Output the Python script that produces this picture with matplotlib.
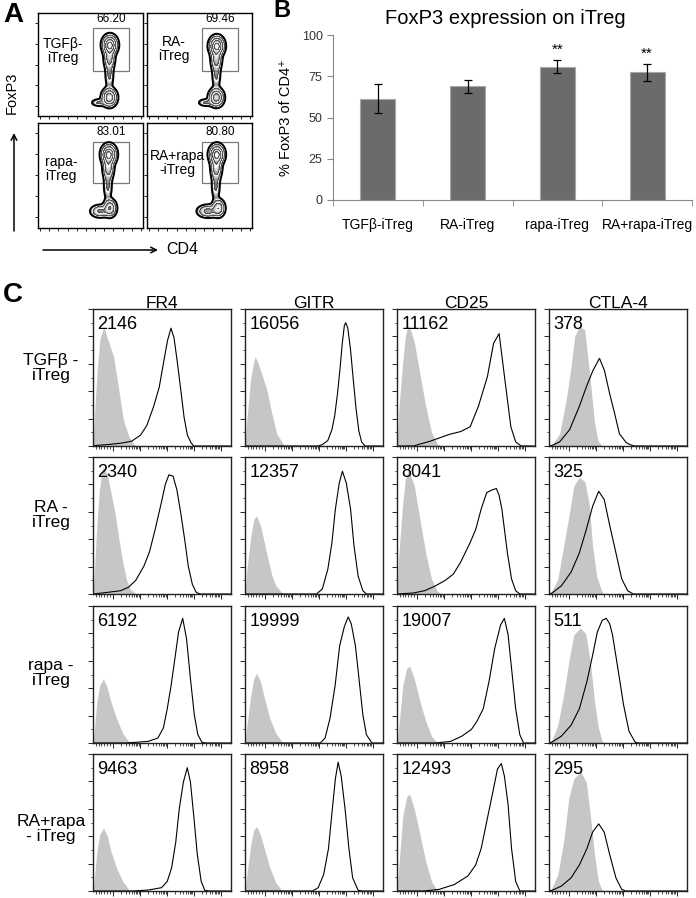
import numpy as np
import matplotlib
matplotlib.use("Agg")
import matplotlib.pyplot as plt

plt.rcParams['font.family'] = ['Liberation Sans', 'DejaVu Sans']

W, H = 696, 898

# ---------------- panel A: FoxP3 vs CD4 contour plots ----------------
flow_labels = ['TGFβ-\niTreg', 'RA-\niTreg', 'rapa-\niTreg', 'RA+rapa\n-iTreg']
gate_pct = ['66.20', '69.46', '83.01', '80.80']
# populations: (x, y, sx, sy, weight) in axes fraction
tgfb_pops = [(0.685, 0.69, 0.034, 0.045, 1.0), (0.68, 0.57, 0.026, 0.06, 0.4),
             (0.68, 0.40, 0.023, 0.08, 0.12), (0.68, 0.18, 0.034, 0.042, 0.8),
             (0.58, 0.13, 0.04, 0.02, 0.12)]
ra_pops = [(0.665, 0.68, 0.034, 0.045, 1.0), (0.66, 0.56, 0.026, 0.06, 0.4),
           (0.66, 0.40, 0.023, 0.08, 0.12), (0.66, 0.18, 0.034, 0.042, 0.75),
           (0.56, 0.13, 0.04, 0.02, 0.12)]
rapa_pops = [(0.675, 0.70, 0.034, 0.045, 1.0), (0.67, 0.58, 0.026, 0.06, 0.45),
             (0.665, 0.40, 0.023, 0.08, 0.12), (0.685, 0.19, 0.03, 0.04, 0.55),
             (0.59, 0.16, 0.045, 0.03, 0.3)]
rarapa_pops = [(0.665, 0.70, 0.034, 0.045, 1.0), (0.66, 0.58, 0.026, 0.06, 0.45),
               (0.655, 0.40, 0.023, 0.08, 0.12), (0.68, 0.19, 0.03, 0.04, 0.5),
               (0.58, 0.16, 0.05, 0.03, 0.35)]
flow_pops = [tgfb_pops, ra_pops, rapa_pops, rarapa_pops]

# ---------------- panel B: bar chart ----------------
groups = ['TGFβ-iTreg', 'RA-iTreg', 'rapa-iTreg', 'RA+rapa-iTreg']
foxp3_mean = [61.5, 68.8, 80.9, 77.3]
foxp3_err = [8.6, 4.1, 3.9, 5.3]
signif = ['', '', '**', '**']

# ---------------- panel C: histograms ----------------
markers = ['FR4', 'GITR', 'CD25', 'CTLA-4']
row_labels = ['TGFβ -\niTreg', 'RA -\niTreg', 'rapa -\niTreg', 'RA+rapa\n- iTreg']
mfi = [[2146, 16056, 11162, 378],
       [2340, 12357, 8041, 325],
       [6192, 19999, 19007, 511],
       [9463, 8958, 12493, 295]]

# (x %, count % of max) per row, isotype (grey) and stained (line)
FR4_ISO = [
    [(0, 0), (0.5, 10), (1.5, 30), (3, 55), (5, 78), (7.8, 87), (10, 80), (15, 65), (18.7, 41), (22, 19), (26, 7), (29.6, 1.5), (32, 0)],
    [(0, 0), (1, 15), (2.5, 45), (4.5, 75), (6.5, 90), (7.6, 93), (10.4, 87), (13, 74), (16, 59), (18.8, 40), (21.6, 23), (24.4, 10), (27, 3.6), (30, 1), (32, 0)],
    [(0, 0), (1.1, 11), (2.8, 30), (4.8, 42), (7.6, 46.7), (10.4, 40), (13, 30), (17, 18), (21.6, 7), (25.8, 1.2), (28.6, 0)],
    [(0, 0), (1.1, 10), (2.8, 29), (4.8, 41), (7.6, 46), (10.4, 40), (13, 29), (17, 17), (21.6, 7), (25.8, 1.2), (28.6, 0)],
]
FR4_STAIN = [
    [(0, 0), (3, 0.5), (10, 1), (20, 2), (28, 3.5), (34.5, 8), (39, 15), (44, 29), (48, 43), (51.5, 63), (54, 77), (56.5, 86), (58.7, 79), (61, 62), (63.6, 41), (66, 21), (68.4, 8), (71, 2.4), (73, 0), (100, 0)],
    [(0, 0), (9, 1), (20, 2.4), (25.8, 5), (31, 10), (37, 20.6), (41, 31), (45, 47), (49.6, 67), (52.4, 80), (55, 87), (58, 86), (60.8, 76), (63.6, 59), (66.4, 40), (69, 20.6), (72, 7), (74.8, 1.2), (77.6, 0), (100, 0)],
    [(0, 0), (23, 0), (31, 0.5), (40, 1.2), (47, 3.6), (51, 11), (53.8, 25), (56.6, 42), (59.4, 62), (62, 81), (65, 91), (67.8, 76), (70.6, 47), (73.4, 20.6), (76, 6), (79, 0.5), (81.8, 0), (100, 0)],
    [(0, 0), (28.6, 0), (40, 0.7), (49.6, 2.4), (53.8, 7), (57, 17), (60, 36), (62.5, 60), (65.5, 79.5), (68.3, 90), (70.6, 79.5), (73, 55), (75.6, 26.5), (78.4, 7), (81, 0.5), (84, 0), (100, 0)],
]
GITR_ISO = [
    [(0, 0), (1.4, 20), (4, 48), (6, 60), (7.3, 65), (9, 62), (12, 53), (15.8, 41), (19.4, 24), (23, 9), (28, 1), (30, 0)],
    [(0, 0), (1.4, 18), (4.2, 42), (6.4, 54.5), (8.4, 57), (11.2, 50), (14, 37.5), (16.8, 25), (19.6, 13), (22.4, 6), (26.6, 1.2), (29.4, 0)],
    [(0, 0), (1.4, 13), (4.2, 35), (6.4, 47), (8.4, 51), (11.2, 45), (14, 33), (18, 18), (22.4, 7), (26.6, 1.2), (29.4, 0)],
    [(0, 0), (1.4, 12), (4.2, 34), (6.4, 44.6), (8.4, 47), (11.2, 41), (14, 31), (18, 17), (22.4, 6), (26.6, 0.7), (29.4, 0)],
]
GITR_STAIN = [
    [(0, 0), (53, 0), (56, 1), (60, 4), (63, 12), (65, 22), (67, 38), (69, 58), (70.5, 75), (72, 88), (73, 90), (74.5, 86), (76.5, 70), (78.5, 48), (80.5, 27), (82.5, 11), (84.5, 3), (87, 0), (100, 0)],
    [(0, 0), (51.8, 0), (56, 3.6), (60, 18), (63, 37.5), (65.5, 62), (68.3, 81), (70.6, 89.6), (73.4, 81), (76.5, 62), (79, 35), (82, 13), (85.4, 2.4), (88, 0), (100, 0)],
    [(0, 0), (54.6, 0), (58, 3.6), (61.6, 18), (65.3, 42), (68.6, 71), (72, 85), (74.8, 92), (77, 87), (80, 71), (82.6, 47), (85.4, 20.6), (88, 6), (92, 0), (100, 0)],
    [(0, 0), (49, 0), (53, 2.4), (57, 12), (60.5, 31), (63.3, 60), (65.5, 82), (67.5, 94), (69.7, 84), (72.5, 60), (75.3, 31), (78, 9.6), (82, 0.5), (85, 0), (100, 0)],
]
CD25_ISO = [
    [(0, 0), (1.4, 28), (4.2, 62), (6, 80), (8, 88), (10, 84), (12.5, 76), (16.7, 52), (20.8, 29), (25, 10), (29, 2), (32, 0)],
    [(0, 0), (1.4, 30), (4.2, 66.6), (6, 83.5), (8.3, 91), (12.5, 79), (16.7, 54), (20.8, 30), (25, 11), (29, 2.4), (32, 0)],
    [(0, 0), (1.4, 13), (4.2, 42), (7, 54.5), (9.2, 56), (12.5, 47), (16.7, 30), (20.8, 16), (25, 5), (29, 0.5), (32, 0)],
    [(0, 0), (1.4, 19), (4.2, 55), (7, 68.7), (9, 71), (12.5, 60), (16.7, 41), (20.8, 21.7), (25, 7), (29, 0.5), (32, 0)],
]
CD25_STAIN = [
    [(0, 0), (12, 0), (17, 1.5), (24, 3.5), (31, 6), (38, 8.5), (46, 10.5), (53, 14), (59, 29), (65.5, 50.6), (70, 75), (74, 82), (77.6, 53), (82.5, 14), (86, 3), (90, 0), (100, 0)],
    [(0, 0), (11.7, 0.7), (20, 2.4), (28, 6), (35, 10), (40.8, 14.5), (46, 23), (53, 37.5), (57, 47), (61, 62), (65, 74), (69, 76), (72, 77), (74, 72), (76, 62), (80, 30), (83, 11), (86, 2.4), (89, 0), (100, 0)],
    [(0, 0), (28, 0), (39, 1.2), (47, 5), (54, 10), (58, 16), (62.5, 25), (66.7, 45), (70.8, 69), (75, 86), (77.8, 91), (80.5, 79), (83, 54.5), (86, 25), (89, 6), (91.7, 0), (100, 0)],
    [(0, 0), (19.4, 0), (30.6, 1.2), (41.7, 4.8), (51.4, 11), (57, 19), (61, 31), (65, 50.6), (69.4, 72), (72.8, 89), (75.6, 93), (77.8, 84), (80.5, 63), (83, 31), (86, 7), (89, 0), (100, 0)],
]
CTLA4_ISO = [
    [(0, 0), (2.9, 2), (7.7, 9), (12.5, 34), (16, 58), (18.6, 80), (22, 87), (25.8, 85), (28, 66), (30.6, 41), (33, 17), (35.4, 4), (38, 0.7), (40, 0)],
    [(0, 0), (2.2, 2.4), (6.4, 11), (10.6, 35), (14.8, 59), (18, 79), (22, 85), (26, 82), (29, 66.6), (31.6, 35), (34.5, 13), (38.6, 1.2), (41.5, 0)],
    [(0, 0), (2.2, 2.4), (6.4, 13), (10.6, 35), (14.8, 62), (18, 79), (22.7, 84), (26.6, 80), (30, 59), (33, 30), (35.8, 11), (38.6, 1.2), (41.5, 0)],
    [(0, 0), (2.2, 2.4), (6.4, 12), (10.6, 36), (14.3, 67.5), (18, 82), (23, 87), (27, 79.5), (30, 55), (33, 26.5), (35.8, 7), (38.6, 0.5), (41.5, 0)],
]
CTLA4_STAIN = [
    [(0, 0), (2.9, 0.7), (7.7, 3), (15, 12), (22, 29), (27, 43), (31.8, 55), (36.6, 64), (40.2, 55), (44, 38), (47.5, 24), (51, 9), (56, 2.4), (59.5, 0.7), (62, 0), (100, 0)],
    [(0, 0), (2.2, 0.7), (9, 6), (16, 16), (22, 30), (27, 47), (31.6, 64), (36, 75), (40, 69), (44, 50), (48.5, 30), (52.7, 11), (57, 2.4), (61, 0), (100, 0)],
    [(0, 0), (2.2, 0.7), (9, 5), (16, 13), (22, 25), (27.5, 45), (31.6, 64), (35, 81), (38.6, 89.6), (41.5, 91), (44, 87), (46, 79), (49.9, 54.5), (54, 28), (58, 8.5), (62.5, 0.5), (65, 0), (100, 0)],
    [(0, 0), (2.2, 0.5), (9, 3.6), (16, 9.6), (22, 19), (27.5, 31), (31.6, 43), (36, 49), (40, 43), (44, 26.5), (48.5, 9.6), (52.7, 1.2), (55.5, 0), (100, 0)],
]
iso_curves = [FR4_ISO, GITR_ISO, CD25_ISO, CTLA4_ISO]
stain_curves = [FR4_STAIN, GITR_STAIN, CD25_STAIN, CTLA4_STAIN]


def rect(x0, y0, x1, y1):
    """pixel box (top-left origin) -> figure fraction rect"""
    return [x0 / W, 1 - y1 / H, (x1 - x0) / W, (y1 - y0) / H]


fig = plt.figure(figsize=(W / 100, H / 100), dpi=100)

# ==========================================
# A: contour plots
# ==========================================
flow_boxes = [(38, 13, 143, 116), (147, 13, 252, 116), (38, 123, 143, 228), (147, 123, 252, 228)]
label_pos = [(0.24, 0.63), (0.26, 0.65), (0.22, 0.56), (0.29, 0.62)]
gx, gy = np.meshgrid(np.linspace(0, 1, 300), np.linspace(0, 1, 300))
main_lev = [0.03, 0.1, 0.25, 0.5, 0.8, 1.01]
sub_lev, sub_col = [], []
for k, (a, b) in enumerate(zip(main_lev[:-1], main_lev[1:])):
    lo = 0.3 if k == 0 else 0.5
    for j, s in enumerate(np.linspace(a, b, 6)[:-1]):
        sub_lev.append(s)
        sub_col.append(str(lo + (0.98 - lo) * j / 4))
sub_lev.append(1.01)

for i, box in enumerate(flow_boxes):
    ax = fig.add_axes(rect(*box))
    z = np.zeros_like(gx)
    for cx, cy, sx, sy, w in flow_pops[i]:
        z += w * np.exp(-0.5 * (((gx - cx) / sx) ** 2 + ((gy - cy) / sy) ** 2))
    z /= z.max()
    ax.contourf(gx, gy, z, levels=sub_lev, colors=sub_col)
    ax.contour(gx, gy, z, levels=main_lev[:1], colors='k', linewidths=1.4)
    ax.contour(gx, gy, z, levels=main_lev[1:-1], colors='0.2', linewidths=0.5)
    gy0, gy1 = (0.44, 0.85) if i < 2 else (0.43, 0.82)
    ax.add_patch(plt.Rectangle((0.52, gy0), 0.35, gy1 - gy0, fill=False,
                               edgecolor='#7a7a7a', lw=0.9))
    ax.text(0.70, gy1 + 0.035, gate_pct[i], ha='center', va='bottom', fontsize=8.5)
    ax.text(*label_pos[i], flow_labels[i], ha='center', va='center', fontsize=10,
            linespacing=1.0)
    ax.set_xlim(0, 1)
    ax.set_ylim(0, 1)
    ax.set_xticks(np.linspace(0.02, 0.98, 12))
    ax.set_yticks(np.linspace(0.1, 0.9, 5))
    ax.tick_params(direction='out', length=2, width=0.6, labelbottom=False, labelleft=False)
    for sp in ax.spines.values():
        sp.set_linewidth(1.0)

# ==========================================
# B: bar chart
# ==========================================
axb = fig.add_axes(rect(333, 35, 692, 200))
xpos = np.arange(len(groups))
axb.bar(xpos, foxp3_mean, width=0.39, color='#6b6b6b', edgecolor='#a8a8a8', linewidth=0.8)
axb.errorbar(xpos, foxp3_mean, yerr=foxp3_err, fmt='none', ecolor='k',
             elinewidth=0.9, capsize=3, capthick=0.9)
for x, m, e, s in zip(xpos, foxp3_mean, foxp3_err, signif):
    if s:
        axb.text(x, m + e + 2.0, s, ha='center', va='bottom', fontsize=11)
axb.set_xlim(-0.5, len(groups) - 0.5)
axb.set_ylim(0, 100)
axb.set_yticks([0, 25, 50, 75, 100])
axb.set_xticks(xpos)
axb.set_xticklabels(groups, fontsize=10)
axb.set_xticks(np.arange(len(groups) + 1) - 0.5, minor=True)
axb.tick_params(axis='x', which='major', length=0, pad=13)
axb.tick_params(axis='x', which='minor', length=4, color='#888888', direction='out')
axb.tick_params(axis='y', length=4, color='#888888', labelsize=9, labelcolor='#333333')
for sp in ['top', 'right']:
    axb.spines[sp].set_visible(False)
for sp in ['left', 'bottom']:
    axb.spines[sp].set_color('#888888')
axb.set_ylabel('% FoxP3 of CD4⁺', fontsize=10.5, labelpad=6)

# ==========================================
# C: histograms
# ==========================================
col_left = [93, 245, 397, 549]
row_top = [309, 457, 606, 754]
bw, bh = 138, 137
dec = 19.45                       # width of one decade in % of axis
dec0 = 14.6                       # first decade position
major_t = [dec0 + dec * k for k in range(5)]
minor_t = [dec0 + dec * (k + np.log10(m)) for k in range(4) for m in range(2, 10)]
minor_t += [2, 4, 6, 8, 10, 12]
for r in range(4):
    for c in range(4):
        ax = fig.add_axes(rect(col_left[c], row_top[r], col_left[c] + bw, row_top[r] + bh))
        iso = np.array(iso_curves[c][r])
        st = np.array(stain_curves[c][r])
        ax.fill_between(iso[:, 0], iso[:, 1], color='#c6c6c6', lw=0)
        ax.plot(st[:, 0], st[:, 1], color='k', lw=0.8)
        ax.text(3, 89, str(mfi[r][c]), ha='left', va='center', fontsize=13)
        ax.set_xlim(0, 100)
        ax.set_ylim(0, 100)
        ax.set_xticks(major_t)
        ax.set_xticks(minor_t, minor=True)
        ax.set_yticks(np.arange(0, 101, 20))
        ax.set_yticks(np.arange(10, 100, 20), minor=True)
        ax.tick_params(which='major', direction='out', length=3.5, width=0.6,
                       labelbottom=False, labelleft=False)
        ax.tick_params(which='minor', direction='out', length=1.8, width=0.5)
        for sp in ax.spines.values():
            sp.set_linewidth(1.0)
            sp.set_color('#222222')

# ==========================================
# overlay: panel letters, row/column labels, arrows
# ==========================================
ov = fig.add_axes([0, 0, 1, 1])
ov.set_xlim(0, W)
ov.set_ylim(H, 0)
ov.axis('off')
ov.patch.set_visible(False)

ov.text(3, 15, 'A', fontsize=20, fontweight='bold', va='center', ha='left')
ov.text(273, 10.5, 'B', fontsize=17, fontweight='bold', va='center', ha='left')
ov.text(3, 295, 'C', fontsize=20, fontweight='bold', va='center', ha='left')
ov.text(505, 18, 'FoxP3 expression on iTreg', fontsize=14.5, ha='center', va='center')

ov.text(12, 93, 'FoxP3', rotation=90, fontsize=10.5, ha='center', va='center')
ov.annotate('', xy=(14, 133), xytext=(14, 231),
            arrowprops=dict(arrowstyle='->', lw=1.1, color='k', shrinkA=0, shrinkB=0))
ov.annotate('', xy=(158, 250), xytext=(43, 250),
            arrowprops=dict(arrowstyle='->', lw=1.1, color='k', shrinkA=0, shrinkB=0))
ov.text(166, 250, 'CD4', fontsize=11.5, ha='left', va='center')

for c, name in enumerate(markers):
    ov.text(col_left[c] + bw / 2, 303, name, fontsize=12.5, ha='center', va='center')
row_label_y = [368, 515, 673, 829]
for r, name in enumerate(row_labels):
    ov.text(51, row_label_y[r], name, fontsize=12.5, ha='center', va='center',
            linespacing=1.0)

fig.savefig('out.png', dpi=100)
